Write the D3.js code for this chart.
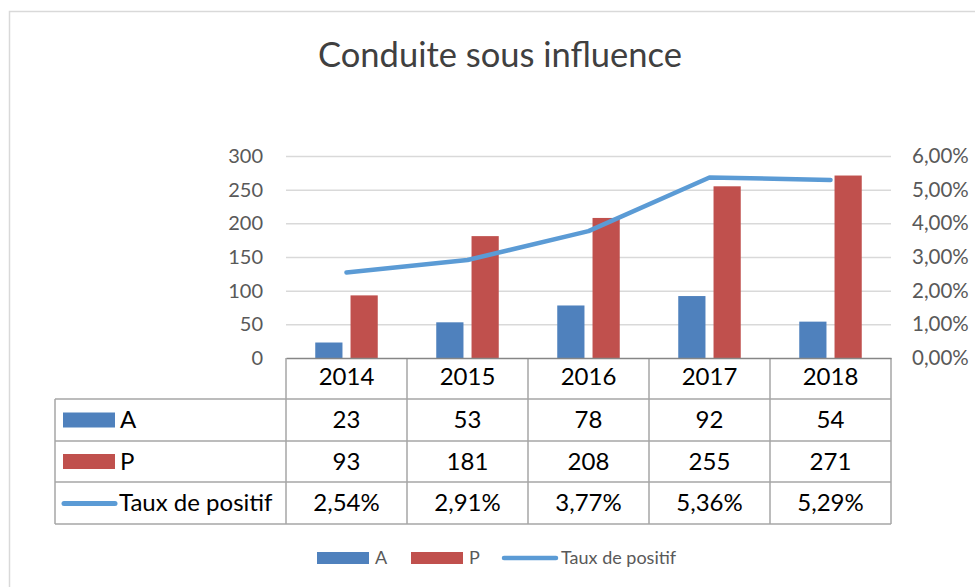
<!DOCTYPE html>
<html><head><meta charset="utf-8">
<script src="https://cdn.jsdelivr.net/npm/d3@7/dist/d3.min.js"></script>
<style>
html,body{margin:0;padding:0;background:#fff;}
svg{display:block;font-family:Lato,"Open Sans",sans-serif;}
</style></head>
<body><svg id="c" width="975" height="587"></svg>
<script>
const years = ["2014","2015","2016","2017","2018"];
const seriesA = [23,53,78,92,54];
const seriesP = [93,181,208,255,271];
const tauxPositif = [0.0254,0.0291,0.0377,0.0536,0.0529];
const leftTicks = [0,50,100,150,200,250,300];
const rightTicks = [0,0.01,0.02,0.03,0.04,0.05,0.06];
const seriesNames = ["A","P","Taux de positif"];
const title = "Conduite sous influence";

const colA = "#4F81BD", colP = "#C0504D", colL = "#5B9BD5";
const fr = d3.formatLocale({decimal:",",thousands:" ",grouping:[3],currency:["","€"]});
const pct = fr.format(".2%");

const svg = d3.select("#c");
// outer chart border
svg.append("rect").attr("x",9.5).attr("y",11.5).attr("width",1000).attr("height",700)
  .attr("fill","#fff").attr("stroke","#D9D9D9").attr("stroke-width",1.5);

svg.append("text").attr("x",500).attr("y",67).attr("text-anchor","middle")
  .attr("font-size",34.5).attr("fill","#404040").text(title);

const x = d3.scaleBand().domain(years).range([286,891]).padding(0);
const xs = d3.scaleBand().domain(["A","P"]).range([0,x.bandwidth()]).paddingInner(0.2286).paddingOuter(0.829);
const yL = d3.scaleLinear().domain([0,300]).range([358,156]);
const yR = d3.scaleLinear().domain([0,0.06]).range([358,156]);

// gridlines
const grid = svg.append("g").attr("transform","translate(286,0)")
  .call(d3.axisLeft(yL).tickValues(leftTicks.slice(1)).tickSize(-605).tickFormat(""));
grid.select(".domain").remove();
grid.selectAll("line").attr("stroke","#D9D9D9").attr("stroke-width",1.5);

// left axis
const gl = svg.append("g").attr("transform","translate(286,0)")
  .call(d3.axisLeft(yL).tickValues(leftTicks).tickSize(0).tickPadding(23));
gl.select(".domain").remove();
gl.selectAll("text").attr("font-size",20).attr("fill","#595959").attr("font-family","Lato");

// right axis
const gr = svg.append("g").attr("transform","translate(891,0)")
  .call(d3.axisRight(yR).tickValues(rightTicks).tickSize(0).tickPadding(21).tickFormat(pct));
gr.select(".domain").remove();
gr.selectAll("text").attr("font-size",20.5).attr("fill","#595959").attr("font-family","Lato");

// bars
const bars = svg.append("g");
years.forEach((yr,i)=>{
  bars.append("rect").attr("x",x(yr)+xs("A")).attr("y",yL(seriesA[i]))
    .attr("width",xs.bandwidth()).attr("height",yL(0)-yL(seriesA[i])).attr("fill",colA);
  bars.append("rect").attr("x",x(yr)+xs("P")).attr("y",yL(seriesP[i]))
    .attr("width",xs.bandwidth()).attr("height",yL(0)-yL(seriesP[i])).attr("fill",colP);
});

// line
const line = d3.line().x((d,i)=>x(years[i])+x.bandwidth()/2).y(d=>yR(d));
svg.append("path").datum(tauxPositif).attr("d",line).attr("fill","none")
  .attr("stroke",colL).attr("stroke-width",4.5).attr("stroke-linecap","round").attr("stroke-linejoin","round");

// data table
const rowTop = [358,399,441,482,524];
const tbl = svg.append("g");
const tblStroke = "#A6A6A6";
years.forEach(yr=>{
  tbl.append("line").attr("x1",x(yr)).attr("x2",x(yr)).attr("y1",rowTop[0]).attr("y2",rowTop[4])
    .attr("stroke",tblStroke).attr("stroke-width",1.5);
});
tbl.append("line").attr("x1",891).attr("x2",891).attr("y1",rowTop[0]).attr("y2",rowTop[4])
  .attr("stroke",tblStroke).attr("stroke-width",1.5);
tbl.append("line").attr("x1",55).attr("x2",55).attr("y1",rowTop[1]).attr("y2",rowTop[4])
  .attr("stroke",tblStroke).attr("stroke-width",1.5);
[1,2,3,4].forEach(r=>{
  tbl.append("line").attr("x1",55).attr("x2",891).attr("y1",rowTop[r]).attr("y2",rowTop[r])
    .attr("stroke",tblStroke).attr("stroke-width",1.5);
});

// x axis (header row)
const gx = svg.append("g").attr("transform","translate(0,358)")
  .call(d3.axisBottom(x).tickSize(0).tickSizeOuter(0).tickPadding(10));
gx.select(".domain").attr("stroke","#868686").attr("stroke-width",1.5);
gx.selectAll("text").attr("font-size",24).attr("fill","#000").attr("font-family","Lato");

const rowsData = [seriesA.map(String), seriesP.map(String), tauxPositif.map(pct)];
rowsData.forEach((vals,r)=>{
  const cy = (rowTop[r+1]+rowTop[r+2])/2;
  vals.forEach((v,i)=>{
    tbl.append("text").attr("x",x(years[i])+x.bandwidth()/2).attr("y",cy)
      .attr("dy","0.35em").attr("text-anchor","middle").attr("font-size",24).attr("fill","#000").text(v);
  });
  if(r<2){
    tbl.append("rect").attr("x",63).attr("y",cy-7.5).attr("width",52).attr("height",15)
      .attr("fill", r===0?colA:colP);
  } else {
    tbl.append("line").attr("x1",64).attr("x2",115).attr("y1",cy+0.5).attr("y2",cy+0.5)
      .attr("stroke",colL).attr("stroke-width",5).attr("stroke-linecap","round");
  }
  tbl.append("text").attr("x", r<2?120:119).attr("y",cy).attr("dy","0.35em")
    .attr("font-size",24).attr("fill","#000").text(seriesNames[r]);
});

// bottom legend
const lg = svg.append("g");
const ly = 558;
lg.append("rect").attr("x",317).attr("y",ly-6).attr("width",52).attr("height",12).attr("fill",colA);
lg.append("text").attr("x",375).attr("y",ly).attr("dy","0.35em").attr("font-size",18).attr("fill","#595959").text(seriesNames[0]);
lg.append("rect").attr("x",411).attr("y",ly-6).attr("width",52).attr("height",12).attr("fill",colP);
lg.append("text").attr("x",469).attr("y",ly).attr("dy","0.35em").attr("font-size",18).attr("fill","#595959").text(seriesNames[1]);
lg.append("line").attr("x1",504).attr("x2",556).attr("y1",ly).attr("y2",ly)
  .attr("stroke",colL).attr("stroke-width",4.5).attr("stroke-linecap","round");
lg.append("text").attr("x",561).attr("y",ly).attr("dy","0.35em").attr("font-size",18).attr("fill","#595959").text(seriesNames[2]);
</script></body></html>
